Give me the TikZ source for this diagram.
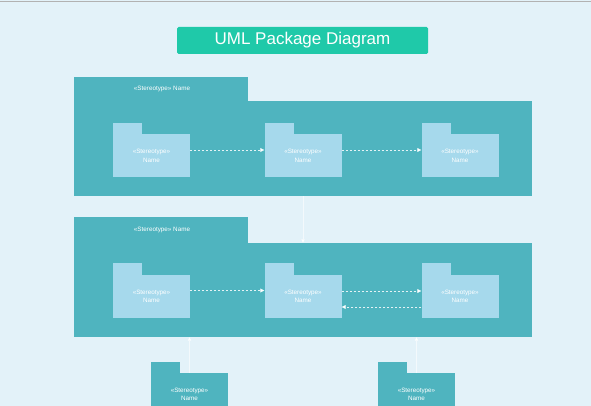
\documentclass[tikz,border=0pt]{standalone}
\usepackage{fontspec}
\setmainfont{Liberation Sans}
\usetikzlibrary{arrows.meta}
\definecolor{bgc}{HTML}{E3F2F9}
\definecolor{titlec}{HTML}{1FC9A9}
\definecolor{pkgc}{HTML}{4FB4BF}
\definecolor{subc}{HTML}{A6D9EC}
\tikzset{
  titlebox/.style={fill=titlec, rounded corners=1.5pt, minimum width=251pt, minimum height=27pt, inner sep=0pt, text=white, font=\fontsize{17}{19}\selectfont},
  bigbody/.style={fill=pkgc, minimum width=458pt, minimum height=95pt, inner sep=0pt},
  bigtab/.style={fill=pkgc},
  biglabel/.style={text=white, font=\fontsize{6.3}{7}\selectfont, inner sep=0pt},
  subbody/.style={fill=subc, minimum width=77pt, minimum height=43pt, inner sep=0pt, align=center, text=white, font=\fontsize{6.3}{8.5}\selectfont},
  subtab/.style={fill=subc},
  lowbody/.style={fill=pkgc, minimum width=77pt, minimum height=43pt, inner sep=0pt, align=center, text=white, font=\fontsize{6.3}{8.5}\selectfont},
  dep/.style={draw=white, draw opacity=0.85, line width=0.6pt, dash pattern=on 2pt off 2pt, -{Triangle[width=4pt,length=4pt,fill=white]}},
  imp/.style={draw=white, draw opacity=0.6, line width=0.5pt, -{Triangle[width=3.5pt,length=3.5pt,fill=white]}}
}
\begin{document}
\begin{tikzpicture}[x=1pt,y=-1pt]
\useasboundingbox (0,0) rectangle (591,406);
\clip (0,0) rectangle (591,406);
\fill[bgc] (0,0) rectangle (591,406);
\draw[gray!60, line width=1pt] (0,2) -- (591,2);

\node[titlebox] (title) at (302.5,40.5) {UML Package Diagram};

% package 1
\fill[bigtab] (74,77) rectangle (248,102);
\node[bigbody] (p1) at (303,148.5) {};
\node[biglabel] (p1l) at (162,89) {«Stereotype» Name};
% package 2
\fill[bigtab] (74,217) rectangle (248,244);
\node[bigbody, minimum height=94pt] (p2) at (303,290) {};
\node[biglabel] (p2l) at (162,230) {«Stereotype» Name};

% row 1 sub packages
\foreach \n/\x in {a/151.5, b/303, c/460}{
  \fill[subtab] (\x-38.5,123) rectangle (\x-9.5,135);
  \node[subbody] (r1\n) at (\x,156) {«Stereotype»\\Name};
}
% row 2 sub packages
\foreach \n/\x in {a/151.5, b/303, c/460}{
  \fill[subtab] (\x-38.5,263) rectangle (\x-9.5,276);
  \node[subbody] (r2\n) at (\x,296.5) {«Stereotype»\\Name};
}
% bottom packages
\fill[pkgc] (151,362) rectangle (180,374);
\node[lowbody] (d1) at (189.5,394.5) {«Stereotype»\\Name};
\fill[pkgc] (378,362) rectangle (407,374);
\node[lowbody] (d2) at (416.5,394.5) {«Stereotype»\\Name};

% dependencies
\draw[dep] ([yshift=6pt]r1a.east) -- ([yshift=6pt]r1b.west);
\draw[dep] ([yshift=6pt]r1b.east) -- ([yshift=6pt]r1c.west);
\draw[dep] ([yshift=6pt]r2a.east) -- ([yshift=6pt]r2b.west);
\draw[dep] ([yshift=5.5pt]r2b.east) -- ([yshift=5.5pt]r2c.west);
\draw[dep] ([yshift=-10.5pt]r2c.west) -- ([yshift=-10.5pt]r2b.east);

% package-level arrows
\draw[imp] (p1.south) -- (p2.north);
\draw[imp] (d1.north) -- (d1.north |- p2.south);
\draw[imp] (d2.north) -- (d2.north |- p2.south);
\end{tikzpicture}
\end{document}
